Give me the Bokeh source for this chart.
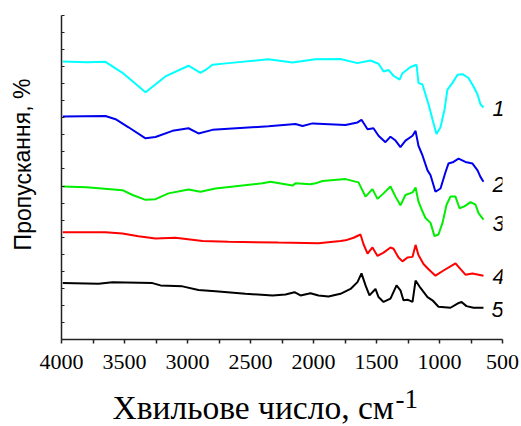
from bokeh.plotting import figure
from bokeh.models import Range1d, FixedTicker, Label
from bokeh.embed import file_html
from bokeh.resources import INLINE

# ---- data (wavenumber, cm^-1 ; transmittance, arbitrary %) ----
w1 = [3990, 3800, 3651, 3516, 3333, 3175, 2992, 2897, 2857, 2802, 2675, 2357, 2167,
      1984, 1786, 1651, 1548, 1484, 1444, 1405, 1365, 1317, 1294, 1230, 1182, 1167,
      1135, 1111, 1087, 1056, 1024, 992, 960, 937, 897, 857, 817, 770, 730, 698, 675, 651]
t1 = [85.8, 85.6, 85.7, 82.3, 76.3, 81.2, 84.5, 82.3, 83.2, 84.8, 85.3, 86.5, 85.5,
      86.5, 86.6, 85.3, 86.1, 85.1, 82.7, 83.2, 81.4, 80.2, 82.2, 84.1, 84.8, 79.2,
      78.7, 75.6, 72.6, 68.0, 63.4, 65.5, 71.0, 77.1, 79.2, 81.7, 81.9, 80.7, 78.1, 75.6, 72.6, 71.6]

w2 = [3990, 3651, 3571, 3468, 3333, 3254, 3119, 2992, 2913, 2802, 2357, 2143, 2087,
      2008, 1746, 1651, 1619, 1571, 1524, 1484, 1429, 1389, 1349, 1310, 1270, 1214,
      1190, 1167, 1135, 1095, 1071, 1032, 992, 952, 929, 889, 849, 794, 738, 698, 675, 651]
t2 = [68.8, 69.0, 68.0, 65.5, 62.1, 62.5, 64.4, 65.2, 63.6, 64.7, 65.8, 66.5, 65.9,
      66.7, 66.2, 67.0, 67.8, 64.9, 65.2, 62.9, 60.9, 62.6, 61.4, 59.4, 61.4, 62.9,
      64.4, 59.8, 56.8, 52.2, 50.7, 45.6, 46.6, 51.7, 54.3, 54.8, 55.8, 54.8, 54.3, 52.2, 50.2, 48.7]

w3 = [3990, 3800, 3516, 3436, 3333, 3254, 3151, 2992, 2897, 2778, 2405, 2341, 2167,
      2143, 2024, 1984, 1928, 1746, 1643, 1587, 1532, 1492, 1444, 1389, 1349, 1310,
      1270, 1214, 1190, 1167, 1135, 1111, 1071, 1040, 1008, 976, 944, 913, 873, 841,
      802, 754, 714, 690, 651]
t3 = [47.2, 47.0, 46.1, 44.6, 43.1, 43.3, 45.1, 46.3, 45.6, 46.6, 48.2, 48.7, 47.5,
      48.2, 47.9, 48.2, 48.9, 49.5, 48.5, 44.1, 46.4, 43.4, 45.1, 47.2, 44.1, 41.4,
      44.6, 45.4, 46.9, 42.6, 39.5, 37.5, 36.0, 31.9, 32.4, 36.0, 41.6, 44.1, 44.1, 40.5,
      41.1, 42.4, 41.6, 39.0, 37.0]

w4 = [3990, 3651, 3516, 3389, 3254, 3095, 2881, 2675, 2278, 1960, 1786, 1746, 1682,
      1627, 1603, 1571, 1532, 1492, 1444, 1389, 1365, 1325, 1294, 1254, 1214, 1190,
      1167, 1127, 1087, 1032, 968, 873, 833, 794, 738, 651]
t4 = [33.1, 33.1, 32.7, 31.9, 31.2, 31.4, 30.4, 30.2, 29.9, 29.7, 30.4, 30.6, 31.4,
      32.4, 29.4, 26.5, 28.4, 25.8, 26.8, 28.4, 28.0, 25.3, 24.1, 25.3, 25.5, 29.2,
      26.1, 23.3, 21.7, 19.7, 21.3, 23.5, 21.7, 20.0, 20.4, 19.7]

w5 = [3990, 3706, 3595, 3278, 3214, 3040, 2913, 2778, 2540, 2325, 2222, 2151, 2103,
      2024, 1960, 1881, 1786, 1706, 1651, 1619, 1587, 1556, 1508, 1484, 1444, 1389,
      1341, 1310, 1286, 1254, 1214, 1190, 1151, 1095, 1056, 1008, 913, 857, 825, 786, 730, 651]
t5 = [17.4, 17.2, 17.7, 17.4, 16.7, 16.4, 15.3, 14.9, 14.1, 13.6, 13.9, 14.6, 13.6,
      14.3, 13.6, 13.3, 14.1, 15.6, 17.7, 20.4, 16.7, 13.6, 15.6, 13.1, 11.6, 12.6,
      16.7, 15.2, 12.1, 12.3, 11.6, 18.2, 15.9, 13.1, 12.1, 10.1, 9.8, 11.1, 11.6, 10.3, 9.8, 9.8]

series = [(w1, t1, "#00FFFF"), (w2, t2, "#0000EE"), (w3, t3, "#00EE00"),
          (w4, t4, "#FF0000"), (w5, t5, "#000000")]
curve_labels = ["1", "2", "3", "4", "5"]

x_ticks = [4000, 3500, 3000, 2500, 2000, 1500, 1000, 500]
x_minor = [3750, 3250, 2750, 2250, 1750, 1250, 750]
y_ticks = [i * 100 / 19 for i in range(20)]

p = figure(width=521, height=426, x_range=Range1d(4000, 500), y_range=Range1d(0, 100),
           output_backend="svg", toolbar_location=None,
           min_border_left=61, min_border_right=19, min_border_top=15, min_border_bottom=83)
p.outline_line_color = None
p.xgrid.visible = False
p.ygrid.visible = False

for w, t, c in series:
    p.line(w, t, line_color=c, line_width=2)

# x axis
xa = p.xaxis[0]
xa.ticker = FixedTicker(ticks=x_ticks, minor_ticks=x_minor)
xa.axis_line_color = "#222222"
xa.axis_line_width = 1.5
xa.major_tick_line_color = "#222222"
xa.minor_tick_line_color = "#222222"
xa.major_tick_line_width = 1.5
xa.minor_tick_line_width = 1.5
xa.major_tick_in = 0
xa.major_tick_out = 4
xa.minor_tick_in = 0
xa.minor_tick_out = 4
xa.major_label_text_font = "Liberation Serif"
xa.major_label_text_font_size = "22px"
xa.major_label_text_color = "black"
xa.major_label_standoff = 11

# y axis: ticks only (drawn as minor ticks so no tick labels exist)
ya = p.yaxis[0]
ya.ticker = FixedTicker(ticks=[], minor_ticks=y_ticks)
ya.axis_line_color = "#222222"
ya.axis_line_width = 1.5
ya.minor_tick_line_color = "#222222"
ya.minor_tick_line_width = 1.2
ya.minor_tick_in = 3
ya.minor_tick_out = 0
ya.major_tick_in = 0
ya.major_tick_out = 0

# axis titles in the side panels
p.add_layout(Label(x=51, y=1, x_units="screen", y_units="screen",
                   text="Хвильове число, см", text_font="Liberation Serif",
                   text_font_size="33.5px", text_color="black",
                   text_align="left", text_baseline="alphabetic"), "below")
p.add_layout(Label(x=334, y=28, x_units="screen", y_units="screen",
                   text="-1", text_font="Liberation Serif",
                   text_font_size="27px", text_color="black",
                   text_align="left", text_baseline="alphabetic"), "below")
p.add_layout(Label(x=-13, y=175, x_units="screen", y_units="screen",
                   text="Пропускання, %", text_font="Liberation Sans",
                   text_font_size="23px", text_color="black", angle=1.5708,
                   text_align="center", text_baseline="middle"), "left")

# curve numbers
lab_sx = [437, 437, 437, 437, 436]
lab_sy = [231, 155, 116, 63, 30]
for s, sx, sy in zip(curve_labels, lab_sx, lab_sy):
    p.add_layout(Label(x=sx, y=sy, x_units="screen", y_units="screen", text=s,
                       text_font="Liberation Sans", text_font_style="italic",
                       text_font_size="22px", text_color="black",
                       text_align="center", text_baseline="middle"))

open("out.html", "w").write(file_html(p, INLINE))
